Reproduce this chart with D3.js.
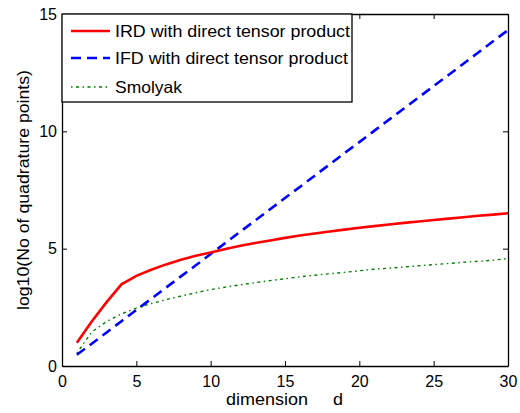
<!DOCTYPE html>
<html>
<head>
<meta charset="utf-8">
<script src="https://cdn.jsdelivr.net/npm/d3@7"></script>
<style>
body{margin:0;background:#fff;}
text{font-family:"Liberation Sans",Arial,sans-serif;fill:#000;}
</style>
</head>
<body>
<div id="chart"></div>
<script>
var dims = d3.range(1, 31);
// log10 of number of quadrature points
var ird = [0.99,1.90,2.72,3.48,3.84,4.10,4.33,4.53,4.70,4.84,4.99,5.12,5.24,5.35,5.46,5.56,5.65,5.73,5.81,5.89,5.96,6.03,6.10,6.16,6.22,6.28,6.34,6.40,6.45,6.51];
var ifd = [0.48,0.95,1.43,1.91,2.39,2.86,3.34,3.82,4.29,4.77,5.25,5.73,6.20,6.68,7.16,7.63,8.11,8.59,9.07,9.54,10.02,10.50,10.97,11.45,11.93,12.40,12.88,13.36,13.84,14.31];
var smolyak = [0.55,1.45,1.90,2.22,2.47,2.66,2.83,2.98,3.12,3.26,3.36,3.46,3.55,3.64,3.72,3.80,3.87,3.93,3.99,4.06,4.12,4.17,4.22,4.27,4.32,4.37,4.42,4.46,4.51,4.58];
var xTicks = [0,5,10,15,20,25,30];
var yTicks = [0,5,10,15];
var legendLabels = ["IRD with direct tensor product","IFD with direct tensor product","Smolyak"];

var W = 520, H = 413;
var m = {left:62, right:12, top:14, bottom:47};
var svg = d3.select("#chart").append("svg").attr("width",W).attr("height",H);
var x = d3.scaleLinear().domain([0,30]).range([m.left, W-m.right]);
var y = d3.scaleLinear().domain([0,15]).range([H-m.bottom, m.top]);

var g = svg.append("g");
// axes with inward ticks on all four sides
g.append("g").attr("transform","translate(0,"+y(0)+")")
	.call(d3.axisBottom(x).tickValues(xTicks).tickSizeInner(-5).tickSizeOuter(0).tickPadding(10))
	.call(function(a){a.selectAll("text").attr("font-size","16px").attr("font-family",null).attr("dy","0.71em");});
g.append("g").attr("transform","translate("+x(0)+",0)")
	.call(d3.axisLeft(y).tickValues(yTicks).tickSizeInner(-5).tickSizeOuter(0).tickPadding(5))
	.call(function(a){a.selectAll("text").attr("font-size","16px").attr("font-family",null);});
g.append("g").attr("transform","translate(0,"+y(15)+")")
	.call(d3.axisTop(x).tickValues(xTicks).tickSizeInner(-5).tickSizeOuter(0).tickFormat(""));
g.append("g").attr("transform","translate("+x(30)+",0)")
	.call(d3.axisRight(y).tickValues(yTicks).tickSizeInner(-5).tickSizeOuter(0).tickFormat(""));
g.selectAll(".domain").attr("stroke","#000").attr("stroke-width",1.3);
g.selectAll(".tick line").attr("stroke","#000");

var line = d3.line().x(function(d){return x(d[0]);}).y(function(d){return y(d[1]);});
function pts(vals){return dims.map(function(d,i){return [d, vals[i]];});}

svg.append("path").datum(pts(smolyak)).attr("d",line).attr("fill","none")
	.attr("stroke","#008000").attr("stroke-width",1.4).attr("stroke-dasharray","1.5,3.5,3,3.5");
svg.append("path").datum(pts(ifd)).attr("d",line).attr("fill","none")
	.attr("stroke","#0000ff").attr("stroke-width",2.6).attr("stroke-dasharray","10,6");
svg.append("path").datum(pts(ird)).attr("d",line).attr("fill","none")
	.attr("stroke","#ff0000").attr("stroke-width",2.6);

// legend
var leg = svg.append("g");
leg.append("rect").attr("x",x(0)).attr("y",y(15)).attr("width",352-x(0)).attr("height",102-y(15))
	.attr("fill","#fff").attr("stroke","#000").attr("stroke-width",1.3);
var styles = [
	{c:"#ff0000",w:2.6,da:null},
	{c:"#0000ff",w:2.6,da:"10,6"},
	{c:"#008000",w:1.4,da:"1.5,3.5,3,3.5"}
];
var rowY = [31,58,87];
var legW = [235,233,67];
legendLabels.forEach(function(l,i){
	leg.append("line").attr("x1",71).attr("x2",110).attr("y1",rowY[i]).attr("y2",rowY[i])
		.attr("stroke",styles[i].c).attr("stroke-width",styles[i].w).attr("stroke-dasharray",styles[i].da);
	leg.append("text").attr("x",115).attr("y",rowY[i]).attr("dy","0.35em").attr("font-size","16.5px")
		.attr("textLength",legW[i]).attr("lengthAdjust","spacingAndGlyphs").text(l);
});

// axis labels
svg.append("text").attr("x",226).attr("y",405).attr("font-size","16.5px")
	.attr("textLength",117).attr("lengthAdjust","spacingAndGlyphs")
	.style("white-space","pre").text("dimension     d");
svg.append("text").attr("transform","translate(29,190) rotate(-90)").attr("text-anchor","middle")
	.attr("font-size","16.5px").attr("textLength",240).attr("lengthAdjust","spacingAndGlyphs")
	.text("log10(No of quadrature points)");
</script>
</body>
</html>
